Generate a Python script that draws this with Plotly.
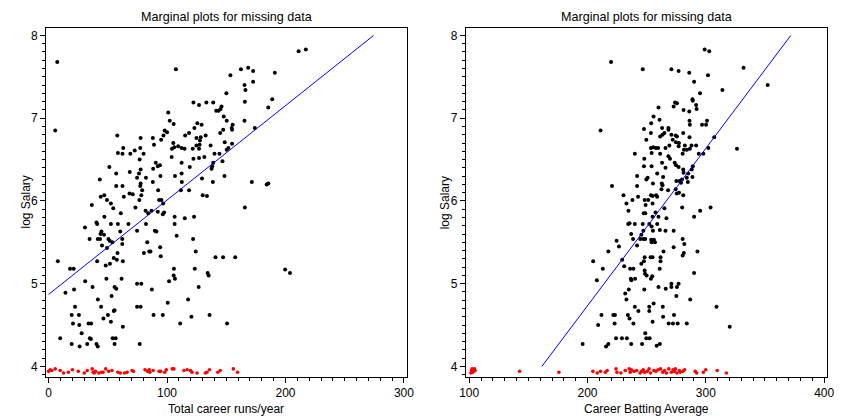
import plotly.graph_objects as go

# ---- Panel 1: total career runs per year vs log salary ----
runs_x = [7.3, 5.6, 58, 77.7, 88, 101, 98, 100, 97, 95, 89, 63, 72.7, 77.4, 58.5, 62.4, 69, 80.2, 76.9, 90.5,
          92.2, 94, 88.3, 51.3, 77.7, 68.5, 57.1, 76.3, 74.7, 82.2, 94.4, 43.2, 77.7, 77.4, 88, 57.1, 62.4, 79, 92.5, 44,
          47, 63.5, 68.3, 71, 78.3, 49.3, 76.6, 93.3, 95.2, 52.6, 36.5, 54.6, 73.3, 96.7,
          107.5, 162.4, 168.5, 172.7, 191, 153.5, 172.7, 165.4, 166.2, 150.1, 122.3, 127, 133.2, 139, 165.7, 188.8,
          185.5, 146, 145.2, 143.5, 141.5, 147.9, 150.4, 102.3, 165.4, 105.6, 125.6, 129.2, 155.4, 154.6, 154.9, 123.1,
          147.4, 174.1, 118.6, 115.3, 144.9, 132.6, 124.8, 128.4, 127.8, 105.3, 148.7, 136.8, 124.8, 127.5, 154.9,
          104.2, 106.1, 109.4, 112.3, 114.8, 121.7, 127, 151.8, 150.4, 103.9, 122.3, 127, 131.5, 140.1, 144.3, 112.3,
          139, 138.2, 137.6, 146.8, 119.2, 106.7, 112.3, 129.5, 148.5, 112.5, 138.7, 171.6, 185.5, 184.1, 111.7,
          118.6, 130.1, 133.7, 165.7, 211.1, 217.2,
          81.9, 84.1, 86.9, 92.2, 97.5, 61, 47.1, 40.4, 41, 52.6, 58.5, 67.4, 82.2, 96.4, 30.7, 89.7, 91, 74.7, 44.6,
          43.8, 60.5, 34.6, 41.5, 43.4, 50.5, 51.5, 53.8, 62.2, 62.2, 46.8, 45.1, 49.3, 83.3, 94.2, 58.2, 80.5, 85, 86,
          94.7, 55, 57.6, 62.7, 41, 51.8, 48.2, 7.8, 18.1, 21.2, 30.9, 48.8, 61.6, 37.1, 55.7, 57.1, 74.7, 78.3, 87.2,
          101.7, 21.5, 14.2, 53.2, 41.6, 22.3, 44.3, 55, 55.7, 74.7, 77.7, 100.6, 19.5, 25.6, 50.1, 46.3, 88.6, 96.4,
          52.6, 20.6, 25.9, 33.7, 35.9, 62.7, 27.9, 9.8, 34.8, 35.7, 54, 56.6, 19.5, 26.2, 32.6, 40.4, 41.5, 55.7, 76.9,
          105.8, 105.6, 106.7, 111.1, 117.8, 120.6, 123.4, 126.7, 134.3, 135.1, 135.9, 150.7, 199.7, 203.8, 106.4,
          106.4, 115, 122.8, 108.1, 122, 124.2, 140.9, 147.3, 157.6]
runs_logsal = [7.68, 6.85, 6.79, 6.76, 6.76, 7.07, 6.85, 6.83, 6.79, 6.74, 6.68, 6.64, 6.61, 6.64, 6.58, 6.57, 6.57,
               6.57, 6.50, 6.46, 6.42, 6.43, 6.39, 6.41, 6.38, 6.35, 6.33, 6.33, 6.28, 6.28, 6.30, 6.26, 6.21, 6.18, 6.23,
               6.18, 6.18, 6.13, 6.13, 6.05, 6.07, 6.05, 6.09, 6.08, 6.07, 6.01, 6.01, 6.01, 6.01, 5.97, 5.95, 5.91,
               5.92, 5.97,
               7.59, 7.59, 7.61, 7.57, 7.55, 7.52, 7.44, 7.40, 7.34, 7.30, 7.19, 7.16, 7.19, 7.19, 7.20, 7.23, 7.13, 7.14,
               7.11, 7.09, 7.09, 7.02, 6.97, 6.97, 6.97, 6.93, 6.94, 6.92, 6.92, 6.88, 6.86, 6.88, 6.86, 6.88, 6.82,
               6.79, 6.82, 6.79, 6.76, 6.77, 6.73, 6.70, 6.71, 6.67, 6.67, 6.68, 6.69, 6.63, 6.65, 6.66, 6.64, 6.63,
               6.63, 6.63, 6.64, 6.62, 6.53, 6.51, 6.52, 6.53, 6.57, 6.57, 6.46, 6.46, 6.42, 6.39, 6.48, 6.41, 6.30,
               6.33, 6.27, 6.30, 6.23, 6.23, 6.23, 6.21, 6.20, 6.13, 6.13, 6.07, 6.06, 5.92, 7.81, 7.83,
               5.88, 5.85, 5.88, 5.87, 5.86, 5.85, 5.81, 5.74, 5.72, 5.72, 5.72, 5.72, 5.72, 5.84, 5.68, 5.64, 5.63, 5.64,
               5.63, 5.60, 5.63, 5.54, 5.54, 5.54, 5.54, 5.52, 5.50, 5.54, 5.48, 5.59, 5.46, 5.43, 5.50, 5.44, 5.37,
               5.37, 5.39, 5.39, 5.33, 5.31, 5.29, 5.27, 5.27, 5.24, 5.22, 5.27, 5.18, 5.18, 5.03, 5.06, 5.06, 4.96,
               4.96, 4.94, 5.00, 5.00, 4.93, 5.03, 4.93, 4.89, 4.85, 4.81, 4.72, 4.72, 4.67, 4.68, 4.72, 4.72, 4.77,
               4.62, 4.62, 4.62, 4.58, 4.62, 4.62, 4.54, 4.52, 4.50, 4.52, 4.52, 4.48, 4.40, 4.34, 4.34, 4.33, 4.34,
               4.34, 4.27, 4.24, 4.27, 4.27, 4.24, 4.27, 4.27,
               5.18, 5.10, 5.06, 4.52, 4.81, 4.60, 5.18, 4.96, 5.13, 5.10, 4.62, 4.52, 5.17, 5.13, 5.81, 5.72, 5.79,
               5.81, 5.58, 5.54, 5.39, 5.32, 5.32, 5.32]

# Players with no recorded salary, shown along the bottom margin
runs_missing_x = [0, 1.4, 2.8, 5.6, 9.8, 12.6, 16.7, 20.1, 25.1, 30.1, 32.6, 36.8, 37.6, 38.5, 39.6, 42.4, 44.6, 46,
                  48.2, 50.7, 53.5, 58.5, 60.5, 64.1, 66.3, 70.5, 71.6, 81.4, 83.6, 85, 85.5, 88.3, 93.3, 94.7, 98.1,
                  99.4, 104.4, 105.8, 114.2, 117, 119.8, 121.1, 125.3, 132.3, 133.7, 135.9, 142.9, 144.9, 156, 159.6]
runs_missing_y = [3.94, 3.96, 3.95, 3.97, 3.95, 3.92, 3.93, 3.96, 3.94, 3.92, 3.95, 3.97, 3.93, 3.92, 3.94, 3.92,
                  3.93, 3.93, 3.97, 3.94, 3.95, 3.93, 3.92, 3.92, 3.93, 3.95, 3.94, 3.96, 3.94, 3.96, 3.93, 3.95,
                  3.94, 3.94, 3.93, 3.96, 3.97, 3.97, 3.95, 3.96, 3.95, 3.93, 3.92, 3.92, 3.93, 3.96, 3.93, 3.95,
                  3.97, 3.93]

runs_fit_x = [0, 274.4]
runs_fit_y = [4.87, 8.0]

# ---- Panel 2: career batting average vs log salary ----
avg_x = [219.9, 246.7, 270.9, 277, 286, 299, 302.9, 301.8, 331.9, 290.1, 295.1, 314, 352.3, 288.7, 289, 291.8, 274.0,
         275.6, 292.2, 272.8, 260, 281.2, 286, 255.8, 260.9, 253.8, 286.2, 286.5, 296.8, 300.2, 301, 211, 247.7, 263,
         268.4, 268.4, 253.6, 261.4, 263.4, 265, 270.9, 274.5, 275.6, 280.9, 286.2, 307.1,
         249.7, 272, 274.7, 277.3, 255.5, 257.8, 259.7, 253.6, 265.9, 269.2, 277, 282.3, 287.9, 291.8, 281.5, 284,
         286.5, 302.1, 294, 297.9, 240, 254.2, 261.4, 268.4, 269.7, 280.4, 248, 263, 273.7, 274.8, 247.7, 254.2,
         265.9, 277, 280.9, 281.2, 289, 288.1, 285.1, 283.9, 288.7, 241.9, 258.9, 250.8, 249.7, 263.9, 255.3, 262.8,
         263.4, 220.7, 241.9, 275.1, 277.8, 279.8, 279, 284.8, 262.5, 268.1, 274.5, 277.3, 275.4, 280.9, 230.4,
         242.7, 248.3, 251.3, 253.6, 255, 258, 258.9, 232.9, 238, 249.1, 255, 265, 280, 304,
         326.3, 295.2, 290.1,
         234.6, 247.5, 248.8, 257.5, 255, 260, 266.7, 235.5, 234.4, 240, 246.7, 252.2, 254.2, 258.9, 247.2, 255.3,
         261.1, 265.9, 272.8, 236.9, 245.5, 238.5, 244.6, 247.2, 248.8, 253.8, 256.1, 254.2, 257, 280.4, 224.6,
         241.9, 226.6, 281.8, 272.8, 217.6, 264.2, 292.9, 281.4, 280.4, 248.3, 253.3, 255, 261.7, 261.7, 229.3,
         204.8, 247.7, 245.5, 231, 212.9, 236, 238.8, 261, 248.3, 248.6, 250, 253.6, 254.7, 290.1, 236.6, 240.2,
         237.1, 207.9, 270.9, 277, 275.6, 270.9, 260, 266.1, 248, 234.9, 231.9, 275.1, 232.9, 286.8, 255.9, 240,
         252.2, 252.2, 263.6, 243, 211.8, 221.8, 223.2, 234.1, 235.5, 263.9, 273.1, 209, 222.9, 238.8, 255, 268.6,
         272.2, 276.2, 283.9, 248.8, 224.1, 229.1, 233.3, 249.7, 252.5, 195.9, 215.7, 217.6, 236.9, 246.1, 258.4,
         261.1, 309, 320.2]
avg_logsal = [7.68, 7.59, 7.59, 7.57, 7.55, 7.83, 7.81, 7.52, 7.61, 7.44, 7.30, 7.34, 7.40, 7.23, 7.21, 7.16, 7.19,
              7.18, 7.11, 7.14, 7.13, 7.10, 7.08, 7.02, 6.98, 6.94, 6.97, 6.92, 6.92, 6.92, 6.97, 6.85, 6.87, 6.88,
              6.88, 6.86, 6.82, 6.78, 6.80, 6.82, 6.80, 6.79, 6.78, 6.82, 6.77, 6.77,
              6.74, 6.74, 6.71, 6.70, 6.65, 6.64, 6.64, 6.64, 6.64, 6.67, 6.66, 6.67, 6.67, 6.67, 6.62, 6.62, 6.63,
              6.64, 6.57, 6.57, 6.57, 6.58, 6.57, 6.54, 6.51, 6.57, 6.51, 6.46, 6.46, 6.43, 6.42, 6.42, 6.40, 6.41,
              6.38, 6.34, 6.42, 6.38, 6.33, 6.28, 6.29, 6.30, 6.33, 6.28, 6.26, 6.29, 6.21, 6.21, 6.19, 6.18, 6.18,
              6.24, 6.24, 6.26, 6.22, 6.23, 6.14, 6.13, 6.14, 6.10, 6.09, 6.07, 6.07, 6.05, 6.01, 6.01, 6.07, 6.06,
              6.07, 6.05, 5.97, 6.01, 5.95, 5.97, 5.91, 5.92, 5.92,
              6.63, 5.88, 5.81,
              5.88, 5.85, 5.85, 5.86, 5.81, 5.81, 5.79, 5.73, 5.72, 5.72, 5.72, 5.72, 5.69, 5.72, 5.64, 5.64, 5.65,
              5.64, 5.64, 5.60, 5.59, 5.54, 5.54, 5.54, 5.54, 5.53, 5.53, 5.50, 5.50, 5.54, 5.52, 5.46, 5.45, 5.48,
              5.44, 5.39, 5.39, 5.39, 5.37, 5.34, 5.32, 5.32, 5.32, 5.32, 5.27, 5.29, 5.27, 5.27, 5.24, 5.21, 5.18,
              5.18, 5.18, 5.18, 5.16, 5.12, 5.10, 5.06, 5.09, 5.13, 5.06, 5.06, 5.04, 5.04, 5.00, 5.00, 4.96, 4.96,
              4.96, 4.94, 4.93, 4.93, 4.88, 4.85, 4.81, 4.81, 4.76, 4.72, 4.72, 4.67, 4.72, 4.67, 4.62, 4.62, 4.62,
              4.62, 4.58, 4.60, 4.62, 4.50, 4.52, 4.52, 4.54, 4.52, 4.52, 4.52, 4.52, 4.40, 4.34, 4.34, 4.34, 4.34,
              4.34, 4.27, 4.24, 4.27, 4.27, 4.27, 4.25, 4.27, 4.72, 4.48]

avg_missing_x = [101.5, 102, 102.5, 103, 103.5, 104, 104.5, 105, 142.6, 175.8, 204.5, 208.2, 211, 215.1, 216.6,
                 224.1, 224.9, 228.2, 231.9, 235.2, 236.1, 237.1, 239.4, 241.6, 244.4, 245.8, 247.2, 248.3, 250.5,
                 252, 253.3, 256.1, 257.8, 259.7, 261.7, 263.6, 265.1, 266.8, 268.7, 270.9, 272.3, 273.4, 274.3,
                 275.6, 277.6, 278.4, 280.6, 282.1, 291, 292.3, 297.9, 299.9, 309.6, 317.4]
avg_missing_y = [3.92, 3.95, 3.97, 3.93, 3.96, 3.94, 3.97, 3.95, 3.94, 3.93, 3.94, 3.92, 3.94, 3.93, 3.95,
                 3.97, 3.93, 3.92, 3.95, 3.97, 3.93, 3.96, 3.94, 3.95, 3.92, 3.94, 3.96, 3.93, 3.94, 3.97, 3.92,
                 3.95, 3.94, 3.96, 3.97, 3.93, 3.95, 3.92, 3.97, 3.93, 3.96, 3.94, 3.97, 3.92, 3.95, 3.93, 3.94,
                 3.96, 3.94, 3.92, 3.93, 3.96, 3.95, 3.92]

avg_fit_x = [161.4, 371.8]
avg_fit_y = [4.0, 8.0]

panel_title = "Marginal plots for missing data"
x_titles = ["Total career runs/year", "Career Batting Average"]
y_title = "log Salary"

FONT = "Liberation Sans, Arial, sans-serif"

fig = go.Figure()


def add_panel(xs, ys, mx, my, fx, fy, xa, ya):
    fig.add_trace(go.Scatter(x=xs, y=ys, mode="markers", xaxis=xa, yaxis=ya,
                             marker=dict(color="black", size=4, line=dict(width=0)),
                             showlegend=False, hoverinfo="skip"))
    fig.add_trace(go.Scatter(x=mx, y=my, mode="markers", xaxis=xa, yaxis=ya,
                             marker=dict(color="red", size=3.6, line=dict(width=0)),
                             showlegend=False, hoverinfo="skip"))
    fig.add_trace(go.Scatter(x=fx, y=fy, mode="lines", xaxis=xa, yaxis=ya,
                             line=dict(color="blue", width=1),
                             showlegend=False, hoverinfo="skip"))


add_panel(runs_x, runs_logsal, runs_missing_x, runs_missing_y, runs_fit_x, runs_fit_y, "x", "y")
add_panel(avg_x, avg_logsal, avg_missing_x, avg_missing_y, avg_fit_x, avg_fit_y, "x2", "y2")

axis_common = dict(showgrid=False, zeroline=False, showline=True, linecolor="black", linewidth=1,
                   mirror=True, ticks="outside", ticklen=5, tickwidth=1, tickcolor="black",
                   tickfont=dict(family=FONT, size=12, color="black"))

left_dom = [0, 0.4616]
right_dom = [0.5376, 1]

fig.update_layout(
    width=844, height=416, autosize=False,
    margin=dict(l=46, r=9, t=28, b=39, pad=0),
    paper_bgcolor="white", plot_bgcolor="white",
    font=dict(family=FONT, size=12, color="black"),
    xaxis=dict(domain=left_dom, range=[-2.2, 302.2], tickvals=[0, 100, 200, 300],
               minor=dict(dtick=10, tick0=0, ticks="outside", ticklen=3, tickcolor="black"),
               anchor="y", **axis_common),
    yaxis=dict(domain=[0, 1], range=[3.872, 8.09], tickvals=[4, 5, 6, 7, 8],
               minor=dict(dtick=0.1, tick0=0, ticks="outside", ticklen=3, tickcolor="black"),
               anchor="x", **axis_common),
    xaxis2=dict(domain=right_dom, range=[97.2, 402.4], tickvals=[100, 200, 300, 400],
                minor=dict(dtick=10, tick0=0, ticks="outside", ticklen=3, tickcolor="black"),
                anchor="y2", **axis_common),
    yaxis2=dict(domain=[0, 1], range=[3.872, 8.09], tickvals=[4, 5, 6, 7, 8],
                minor=dict(dtick=0.1, tick0=0, ticks="outside", ticklen=3, tickcolor="black"),
                anchor="x2", **axis_common),
)

annotations = []
for dom, xt in zip([left_dom, right_dom], x_titles):
    cx = (dom[0] + dom[1]) / 2
    annotations.append(dict(text=panel_title, x=cx, y=1, xref="paper", yref="paper",
                            xanchor="center", yanchor="middle", yshift=11, showarrow=False,
                            font=dict(family=FONT, size=12.6, color="black")))
    annotations.append(dict(text=xt, x=cx, y=0, xref="paper", yref="paper",
                            xanchor="center", yanchor="middle", yshift=-32, showarrow=False,
                            font=dict(family=FONT, size=12, color="black")))
    annotations.append(dict(text=y_title, x=dom[0], y=0.5, xref="paper", yref="paper",
                            xanchor="center", yanchor="middle", xshift=-21, textangle=-90,
                            showarrow=False, font=dict(family=FONT, size=12, color="black")))
fig.update_layout(annotations=annotations)

fig.write_html("out.html")
